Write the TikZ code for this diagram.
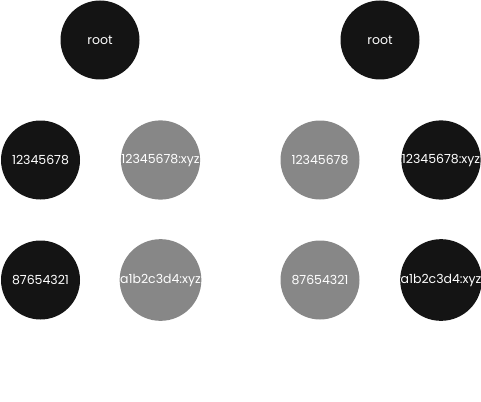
\documentclass[tikz,border=0pt]{standalone}
\usepackage{fontspec}
\setmainfont{Poppins}
\begin{document}
\begin{tikzpicture}[x=1pt,y=-1pt,
  lbl/.style={circle,minimum size=79pt,inner sep=0pt,text=white,font=\fontsize{12.5}{14}\selectfont},
  blk/.style={lbl,fill=black!92},
  gry/.style={lbl,fill=black!47}]
\useasboundingbox (0,0) rectangle (481,401);
\node[blk] (rootL) at (100,40) {root};
\node[blk] (aL) at (40.5,160) {12345678};
\node[gry] (bL) at (160.5,160) {12345678:xyz};
\node[blk] (cL) at (40.5,280) {87654321};
\node[gry] (dL) at (160.5,280) {a1b2c3d4:xyz};
\node[blk] (rootR) at (380,40) {root};
\node[gry] (aR) at (320,160) {12345678};
\node[blk] (bR) at (441,160) {12345678:xyz};
\node[gry] (cR) at (320,280) {87654321};
\node[blk] (dR) at (441,280) {a1b2c3d4:xyz};
\end{tikzpicture}
\end{document}
